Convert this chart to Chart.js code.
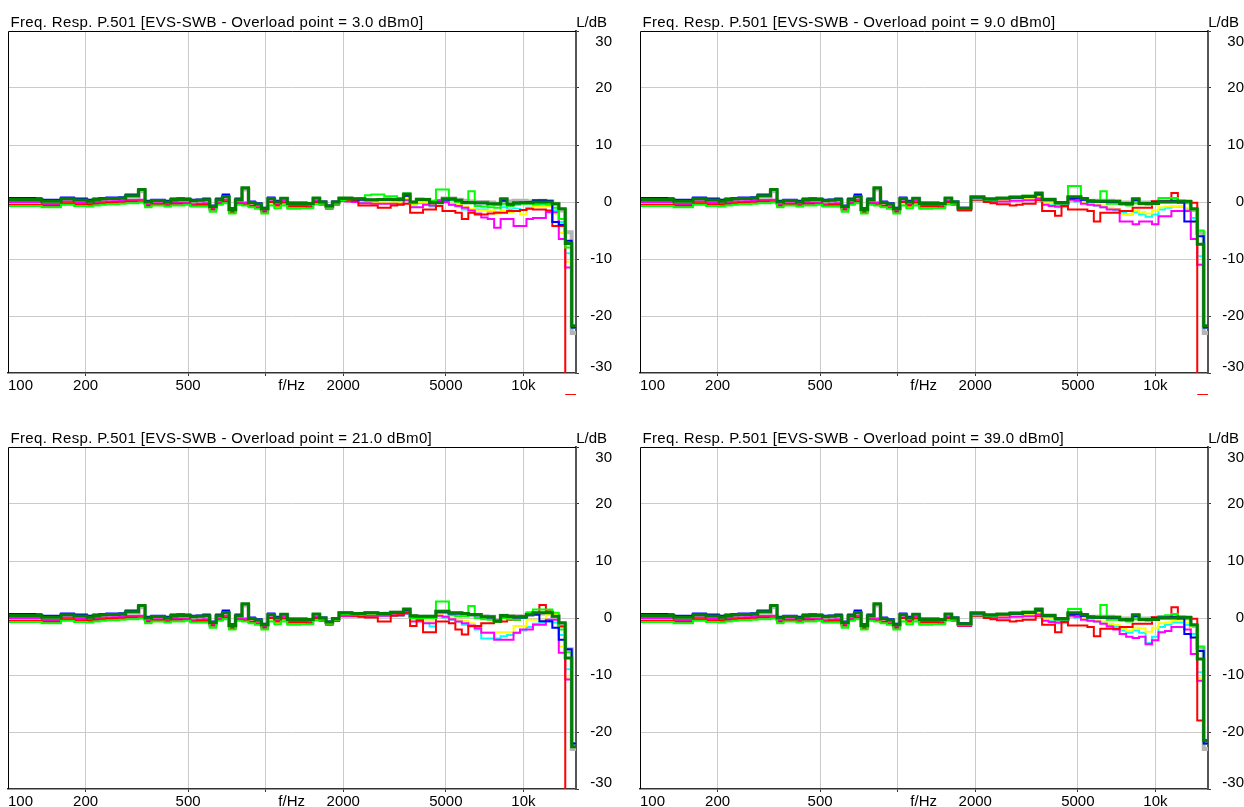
<!DOCTYPE html>
<html lang="en">
<head>
<meta charset="UTF-8">
<title>Freq. Resp. P.501 - EVS-SWB</title>
<script src="https://cdn.jsdelivr.net/npm/chart.js"></script>
<style>
  html, body { margin: 0; padding: 0; background: #fff; overflow: hidden; }
  #wrap { position: relative; width: 1244px; height: 807px; background: #fff; }
  #wrap canvas { position: absolute; }
</style>
</head>
<body>
<div id="wrap">
  <canvas id="p0" width="612" height="404" style="left:0;top:0"></canvas>
  <canvas id="p1" width="612" height="404" style="left:632px;top:0"></canvas>
  <canvas id="p2" width="612" height="404" style="left:0;top:416px"></canvas>
  <canvas id="p3" width="612" height="404" style="left:632px;top:416px"></canvas>
</div>
<script>
// 1/12 octave bands, level in dB. Bands 0..47 look the same in all four plots,
// bands 48..87 are read per plot.
const titles = ['3.0', '9.0', '21.0', '39.0'];
const xTickVals = [111.8, 200, 500, 1000, 1261, 2000, 5000, 10000];
const xTickText = ['100', '200', '500', '', 'f/Hz', '2000', '5000', '10k'];
const labelOnly = [111.8, 1261];

const lowDg = [0.45,0.45,0.45,0.45,0.45,0.15,0.15,0.15,0.55,0.55,0.35,0.35,0.15,0.45,0.55,0.6,0.6,0.65,1.1,1.1,2.2,0,0.25,0.25,0,0.45,0.45,0.45,0.2,0.3,0.4,-0.8,0.4,0.95,-1.3,0.4,2.5,-0.1,-0.4,-1.2,0.6,0,0.65,-0.25,-0.25,-0.25,-0.25,0.7];
const lowBlue = [0.7,0.7,0.7,0.7,0.65,0.4,0.4,0.4,0.8,0.8,0.6,0.6,0.4,0.6,0.7,0.8,0.8,0.85,1.3,1.3,2.1,0.2,0.4,0.4,0.2,0.6,0.65,0.6,0.4,0.45,0.6,-0.6,0.6,1.3,-1.1,0.6,2.4,0.1,-0.2,-1,0.8,0.2,0.7,-0.1,-0.1,-0.1,-0.2,0.7];
const lowGray = [0.35,0.35,0.35,0.35,0.35,0.05,0.05,0.05,0.45,0.45,0.25,0.25,0.05,0.3,0.45,0.5,0.5,0.5,0.9,0.9,1.9,-0.2,0.1,0.1,-0.1,0.3,0.3,0.3,0.1,0.2,0.2,-0.9,0.2,0.7,-1.3,0.2,2.2,-0.2,-0.5,-1.2,0.4,-0.1,0.5,-0.3,-0.3,-0.3,-0.3,0.5];
const lowMagenta = [0,0,0,0,0,-0.35,-0.35,-0.35,0.1,0.1,-0.1,-0.1,-0.25,0,0.1,0.1,0.15,0.2,0.35,0.35,0.4,-0.5,-0.2,-0.2,-0.4,0,-0.1,-0.1,-0.4,-0.3,-0.2,-1.2,-0.1,0.4,-1.6,-0.1,-0.1,-0.6,-0.9,-1.6,0.1,-0.5,0.2,-0.7,-0.7,-0.7,-0.7,0.2];
const lowRed = [-0.5,-0.5,-0.5,-0.5,-0.5,-0.65,-0.65,-0.65,-0.2,-0.2,-0.4,-0.4,-0.5,-0.3,-0.2,-0.15,-0.1,-0.05,0.1,0.1,0.1,-0.65,-0.4,-0.4,-0.6,-0.3,-0.3,-0.3,-0.6,-0.5,-0.5,-1.3,-0.3,0.1,-1.8,-0.3,-0.4,-0.7,-1,-1.7,0,-0.6,-0.1,-0.8,-0.8,-0.8,-0.9,0];
const lowYellow = [-0.25,-0.25,-0.25,-0.25,-0.25,-0.55,-0.55,-0.55,-0.1,-0.1,-0.25,-0.25,-0.35,-0.15,-0.1,-0.05,0,0.05,0.15,0.15,0.15,-0.55,-0.25,-0.25,-0.5,-0.2,-0.2,-0.2,-0.5,-0.4,-0.35,-1.25,-0.25,0.25,-1.65,-0.25,-0.15,-0.55,-0.85,-1.55,-0.25,-0.75,-0.25,-0.95,-0.95,-0.85,-0.85,-0.05];
const lowCyan = [-0.35,-0.35,-0.35,-0.35,-0.35,-0.65,-0.65,-0.65,-0.25,-0.25,-0.45,-0.45,-0.55,-0.35,-0.25,-0.15,-0.15,-0.05,0.05,0.05,0.05,-0.65,-0.45,-0.45,-0.65,-0.35,-0.35,-0.35,-0.65,-0.55,-0.55,-1.35,-0.35,0.05,-1.75,-0.35,-0.25,-0.65,-0.95,-1.65,-0.25,-0.75,-0.35,-1.05,-1.05,-0.95,-0.95,-0.15];
const lowLime = [-0.7,-0.7,-0.7,-0.7,-0.7,-0.9,-0.9,-0.9,-0.5,-0.5,-0.7,-0.7,-0.8,-0.6,-0.5,-0.4,-0.4,-0.3,-0.2,-0.2,-0.1,-0.9,-0.6,-0.6,-0.8,-0.6,-0.6,-0.5,-0.8,-0.8,-0.8,-1.7,-0.5,-0.2,-2,-0.5,-0.6,-0.9,-1.2,-2,-0.6,-1.1,-0.6,-1.2,-1.2,-1.1,-1.1,-0.4];

// plot 1 (3.0 dBm0)
const p1Dg = [0,-0.7,0,0.7,0.7,0.55,0.55,0.4,0.4,0.45,0.5,0.45,0.5,1.4,0,0.5,0.45,-0.15,-0.15,0.55,0.55,0.3,-0.15,-0.15,-0.15,-0.15,-0.3,-0.3,0.55,-0.4,-0.15,-0.15,-0.15,0,0,0,-0.3,-1.2,-7.3,-21.7];
const p1Blue = [0.1,-0.6,0.1,0.6,0.6,0.5,0.4,0.3,0.3,0.35,0.4,0.4,0.4,1.1,0,0.4,0.4,-0.1,-0.1,0.4,0.5,0.3,0,-0.1,-0.2,-0.2,-0.4,-0.4,0.2,-0.4,-0.2,-0.1,0,0.3,0.3,0.2,-3.5,-4,-6.8,-22];
const p1Gray = [-0.1,-0.8,-0.1,0.5,0.5,0.4,0.4,0.3,0.3,0.3,0.4,0.3,0.4,1.2,-0.1,0.4,0.4,0,0.1,0.6,0.6,0.4,0.2,0.1,0,0,-0.1,-0.3,0.3,0.1,0.2,0.2,0.1,0.1,0.2,0.1,-0.3,-1.5,-5.3,-23];
const p1Lime = [-0.3,-1,-0.3,0.3,0.5,0.6,0.7,1.2,1.3,1.3,1,1,0.7,1.5,-0.2,0.3,0.3,0.2,2.2,2.2,0.3,0,0,1.9,-0.7,-0.8,-0.9,-1,-0.3,-0.7,-0.5,-0.3,-0.3,-0.4,-0.3,-0.5,-1,-3,-8,-22];
const p1Red = [-0.3,-0.9,-0.3,0.3,0.3,0.2,-0.6,-0.6,-0.6,-1,-1,-0.6,-0.5,-0.3,-1.9,-1.9,-1.3,-1.3,-0.7,-1.6,-1.6,-1.9,-3,-1.9,-2.2,-2.2,-2,-1.9,-1.9,-1.6,-1.6,-1.4,-1.2,-1.3,-1.3,-1.5,-4.2,-4.2,-40,-40];
const p1Magenta = [-0.5,-1.2,-0.5,0.2,0.1,0,-0.2,-0.2,-0.3,-0.3,-0.3,-0.3,-0.4,0.3,-0.9,-0.9,-0.5,-0.6,0.3,0,-0.5,-0.7,-1,-1.5,-2,-2.7,-3,-4.5,-3,-3,-4.2,-4.2,-3,-2.8,-2.8,-1.8,-1.8,-6.5,-11.5,-22];
const p1Yellow = [-0.2,-0.9,-0.2,0.4,0.4,0.3,0.2,0.1,0,0,0,-0.1,-0.2,0.6,-0.5,0,-0.1,-0.5,0.2,0.1,-0.3,-0.5,-0.8,-1.2,-1.5,-1.5,-1.5,-2,-1.5,-1.8,-1.4,-2.2,-1.2,-0.8,-0.8,-0.7,-2,-5.4,-10.5,-22];
const p1Cyan = [-0.4,-1.1,-0.4,0.2,0.2,0.1,0,-0.1,-0.1,-0.2,-0.2,-0.2,-0.3,0.4,-0.6,-0.2,-0.3,-0.8,0,-0.1,-0.5,-0.8,-1.3,-1.3,-1.3,-1.3,-1.6,-1.8,-0.9,-1.3,-1.2,-1.4,-1,-0.7,-0.5,-0.5,-1.5,-3.5,-9,-22];

// plot 2 (9.0 dBm0)
const p2Dg = [0,-1.1,-1.1,0.9,0.9,0.55,0.55,0.7,0.7,0.85,0.85,1,1,1.6,0.5,0.5,-0.1,-0.1,0.9,0.9,0.6,0.2,0.15,0.15,0.15,0.15,-0.25,-0.25,0.55,-0.25,-0.25,-0.25,0,0,0,0.15,0.15,-1.2,-7.4,-21.7];
const p2Blue = [0.1,-1,-1,0.8,0.8,0.5,0.5,0.6,0.6,0.75,0.75,0.9,0.9,1.3,0.4,0.4,-0.2,-0.2,0.6,0.6,0.4,0.1,0.1,0,0,0,-0.3,-0.4,0.3,-0.3,-0.2,-0.1,0.1,0.1,0.2,0,-3.4,-3.4,-6,-22];
const p2Gray = [-0.1,-1.2,-1.2,0.7,0.7,0.4,0.4,0.5,0.5,0.7,0.7,0.8,0.8,1.4,0.3,0.3,-0.2,-0.2,0.7,0.7,0.5,0.2,0.2,0.2,0.2,0.1,-0.1,-0.1,0.4,-0.1,-0.1,0,0.1,0.1,0.1,0.1,0,-1.4,-5.4,-23];
const p2Lime = [-0.3,-1.2,-1.2,0.5,0.5,0.4,0.3,0.7,0.7,1,1,1.1,1.1,1.3,0.2,0.2,-0.3,-0.3,2.8,2.8,0.5,0,0,1.9,-0.3,-0.3,-0.5,-0.6,-0.2,-0.4,-0.5,-0.2,0.7,0.7,0.7,0.2,-0.2,-1.3,-5,-22];
const p2Red = [-0.3,-1.4,-1.4,0.4,0.4,0,-0.2,-0.4,-0.4,-0.6,-0.5,-0.3,-0.3,0.3,-1.6,-1.6,-2.4,-0.7,-1.3,-1.3,-1.3,-1.6,-3.4,-1.9,-1.9,-1.9,-1.6,-1.6,-1,-1,-1,0.15,0.15,0.15,1.6,-0.15,-0.15,-0.15,-40,-40];
const p2Magenta = [-0.5,-1.5,-1.5,0.3,0.3,0,0,0.1,0.1,0.2,0.2,0.3,0.3,0.6,-0.5,-0.7,-0.8,-0.7,0.4,0.2,-0.3,-0.5,-0.6,-0.9,-1.3,-1.3,-3.4,-3.4,-3.9,-3.4,-3.4,-3.9,-2.5,-2.5,-1.6,-1.6,-1.6,-6.5,-11,-22];
const p2Yellow = [-0.3,-1.3,-1.3,0.5,0.5,0.2,0.2,0.3,0.3,0.4,0.4,0.5,0.5,0.9,-0.2,-0.2,-0.6,-0.6,0.4,0.3,0,-0.3,-0.4,-0.6,-1,-1.2,-2.2,-2.2,-1.5,-1.8,-2,-1.5,-0.9,-0.8,-0.7,-0.7,-1,-3.6,-10.9,-22];
const p2Cyan = [-0.4,-1.4,-1.4,0.3,0.3,0.1,0.1,0.2,0.2,0.3,0.3,0.4,0.4,0.7,-0.4,-0.4,-0.9,-0.9,0.2,0.1,-0.2,-0.4,-0.6,-0.9,-1.2,-1.5,-1.9,-2.2,-1.8,-2.2,-2.6,-2.2,-1.3,-1,-0.8,-0.8,-1.2,-2.8,-9.5,-22];

// plot 3 (21.0 dBm0)
const p3Dg = [0,-0.7,-0.1,0.9,0.9,0.8,0.8,0.9,0.9,0.8,0.8,1,1,1.6,0.4,0.3,0.3,0.3,1.2,1.2,0.9,0.9,0.8,0.6,0.6,0.2,0.2,-0.55,0.45,0.3,0.2,0.2,0.6,0.9,0.9,0.9,0.3,-0.85,-7,-22.6];
const p3Blue = [0.1,-0.6,0,0.9,0.9,0.8,0.8,0.9,0.9,0.8,0.8,0.9,0.9,1.3,0.3,0.3,0.3,0.3,1,1,0.8,0.8,0.7,0.6,0.5,0.2,0.1,-0.5,0.3,0.2,0.1,0.1,0.5,0.6,-0.55,-0.55,-1.7,-3.8,-5.5,-22];
const p3Gray = [-0.1,-0.8,-0.2,0.8,0.8,0.7,0.7,0.8,0.8,0.7,0.7,0.9,0.9,1.4,0.3,0.2,0.2,0.2,1.1,1.1,0.8,0.8,0.7,0.5,0.5,0.3,0.2,-0.4,0.4,0.3,0.3,0.3,0.6,0.8,0.8,0.8,0.3,-1.2,-5.5,-23];
const p3Lime = [-0.3,-1,-0.3,0.6,0.6,0.6,0.6,0.8,0.8,0.8,0.9,0.9,0.9,1.5,0,0,0,0,2.9,2.9,0.5,0.3,0.3,2.1,0,-0.2,-0.3,-0.6,0,-0.2,-0.3,0,1,1.5,1.5,1.5,0.9,-2,-6,-22];
const p3Red = [-0.4,-1.1,-0.5,0.5,0.5,0.4,0.2,0.1,0.1,-0.6,-0.6,0.4,0.5,0.9,-1.4,-0.4,-2.5,-2.5,-0.6,-0.6,-0.9,-2,-2.9,-1.4,-1.4,-0.9,-0.9,-0.6,-0.6,-0.3,-0.3,0.3,0.6,0.6,2.3,1.2,0.3,-1.5,-40,-40];
const p3Magenta = [-0.5,-1.2,-0.5,0.3,0.3,0.3,0.3,0.4,0.4,0.4,0.4,0.5,0.5,0.8,-0.6,-0.6,-0.9,-0.9,0.4,0.2,-0.2,-0.6,-0.9,-1.3,-1.8,-2.6,-2.6,-3.8,-3.8,-3.8,-2.6,-2,-2,-1.2,-1.2,-0.3,-0.3,-6.1,-10.8,-22];
const p3Yellow = [-0.3,-1,-0.3,0.4,0.4,0.4,0.4,0.5,0.5,0.5,0.5,0.6,0.6,1,-0.3,-0.3,-0.6,-0.6,0.5,0.3,0,-0.3,-0.5,-0.9,-1.4,-2.5,-2.5,-2.5,-2.5,-2.5,-1.4,-1.4,-0.3,-0.3,-0.3,0.6,0.6,-5,-10.5,-22];
const p3Cyan = [-0.4,-1.1,-0.4,0.3,0.3,0.3,0.2,0.3,0.3,0.3,0.3,0.4,0.4,0.7,-0.5,-0.5,-0.8,-1.5,0.3,0.1,-0.3,-0.6,-1.2,-1.5,-2,-3.6,-3.6,-3.6,-3.2,-3,-2.6,-2.2,-1.6,-1,-0.8,-0.6,-0.8,-3,-9,-22];

// plot 4 (39.0 dBm0)
const p4Dg = [0,-1,-1,0.9,0.9,0.55,0.55,0.7,0.7,0.85,0.85,1,1,1.6,0.5,0.5,-0.1,-0.1,0.9,0.9,0.6,0.2,0.15,0.15,0.15,0.15,-0.25,-0.25,0.55,-0.25,-0.25,-0.25,0,0,0,0.15,0.15,-1.2,-7.2,-21.5];
const p4Blue = [0.1,-0.9,-0.9,0.8,0.8,0.5,0.5,0.6,0.6,0.75,0.75,0.9,0.9,1.3,0.4,0.4,-0.2,-0.2,0.6,0.6,0.4,0.1,0.1,0,0,0,-0.3,-0.4,0.3,-0.3,-0.2,-0.1,0.1,0.1,0.2,0,-2.8,-3.4,-5.8,-22];
const p4Gray = [-0.1,-1.1,-1.1,0.7,0.7,0.4,0.4,0.5,0.5,0.7,0.7,0.8,0.8,1.4,0.3,0.3,-0.2,-0.2,0.7,0.7,0.5,0.2,0.2,0.2,0.2,0.1,-0.1,-0.1,0.4,-0.1,-0.1,0,0.1,0.1,0.1,0.1,0,-1.4,-5.2,-23];
const p4Lime = [-0.3,-1.2,-1.2,0.5,0.5,0.4,0.3,0.7,0.7,1,1,1.1,1.1,1.3,0.2,0.2,-0.3,-0.3,1.6,1.6,0.5,0,0,2.3,-0.3,-0.3,-0.5,-0.6,-0.2,-0.4,-0.5,-0.2,0.3,0.5,0.7,0.2,-0.2,-1.3,-5,-22];
const p4Red = [-0.3,-1.3,-1.3,0.4,0.4,0,-0.2,-0.4,-0.4,-0.6,-0.5,-0.3,-0.3,0.3,-1.2,-1.2,-2.5,-0.7,-1.3,-1.3,-1.3,-1.6,-3.2,-1.9,-1.9,-1.9,-1.6,-1.6,-1,-1,-1,0.15,0.15,0.15,1.9,-0.15,-0.15,-0.15,-18,-21.5];
const p4Magenta = [-0.5,-1.4,-1.4,0.3,0.3,0,0,0.1,0.1,0.2,0.2,0.3,0.3,0.6,-0.5,-0.7,-0.8,-0.7,0.4,0.2,-0.3,-0.5,-0.6,-1,-1.5,-2,-2.8,-3.3,-3.5,-3.3,-4.6,-3.9,-2.5,-2.3,-1.6,-1.6,-2,-6.3,-11,-22];
const p4Yellow = [-0.3,-1.2,-1.2,0.5,0.5,0.2,0.2,0.3,0.3,0.4,0.4,0.5,0.5,0.9,-0.2,-0.2,-0.6,-0.6,0.4,0.3,0,-0.3,-0.4,-0.6,-1,-1.2,-1.8,-2.2,-1.7,-1.8,-2.4,-1.7,-0.9,-0.8,-0.4,-0.3,-0.8,-3.5,-10.5,-22];
const p4Cyan = [-0.4,-1.3,-1.3,0.3,0.3,0.1,0.1,0.2,0.2,0.3,0.3,0.4,0.4,0.7,-0.4,-0.4,-0.9,-0.9,0.2,0.1,-0.2,-0.4,-0.6,-0.9,-1.2,-1.5,-2.2,-2.6,-2.2,-2.6,-4.4,-3.3,-1.6,-1.2,-0.8,-0.8,-1.2,-2.8,-9.5,-22];

// band lower edges in Hz (1/12 octave grid), the axis runs 100 .. 16000
const fMin = 100, fMax = 16000;
const bandEdges = [];
for (let k = 0; k < 88; k++) bandEdges.push(k === 0 ? fMin : 101.17 * Math.pow(2, k / 12));

const highData = [
  { dg: p1Dg, blue: p1Blue, lime: p1Lime, red: p1Red, magenta: p1Magenta, yellow: p1Yellow, cyan: p1Cyan, gray: p1Gray },
  { dg: p2Dg, blue: p2Blue, lime: p2Lime, red: p2Red, magenta: p2Magenta, yellow: p2Yellow, cyan: p2Cyan, gray: p2Gray },
  { dg: p3Dg, blue: p3Blue, lime: p3Lime, red: p3Red, magenta: p3Magenta, yellow: p3Yellow, cyan: p3Cyan, gray: p3Gray },
  { dg: p4Dg, blue: p4Blue, lime: p4Lime, red: p4Red, magenta: p4Magenta, yellow: p4Yellow, cyan: p4Cyan, gray: p4Gray }
];
const lowData = { dg: lowDg, blue: lowBlue, lime: lowLime, red: lowRed, magenta: lowMagenta, yellow: lowYellow, cyan: lowCyan, gray: lowGray };

// first entry is drawn on top
const seriesStyle = [
  ['dg', '#008000', 3],
  ['blue', '#0000ff', 2],
  ['lime', '#00ff00', 2],
  ['red', '#ff0000', 2],
  ['magenta', '#ff00ff', 2],
  ['yellow', '#ffff00', 2],
  ['cyan', '#00ffff', 2],
  ['gray', '#b4b4b4', 4]
];

const FONT = '"Liberation Sans", Arial, sans-serif';
Chart.defaults.font.family = FONT;
Chart.defaults.color = '#000';

const frame = {
  id: 'frame',
  afterDraw(chart, args, opts) {
    const { ctx, chartArea: a, scales: { x, y } } = chart;
    ctx.save();
    ctx.strokeStyle = '#000';
    ctx.lineWidth = 1;
    ctx.beginPath();
    ctx.moveTo(a.left + 0.5, a.bottom);
    ctx.lineTo(a.left + 0.5, a.top + 0.5);
    ctx.lineTo(a.right, a.top + 0.5);
    ctx.stroke();

    ctx.fillStyle = '#000';
    ctx.font = '15px ' + FONT;
    ctx.textBaseline = 'alphabetic';
    ctx.textAlign = 'left';
    ctx.letterSpacing = '0.35px';
    ctx.fillText(opts.title, a.left + 2.5, a.top - 4.3);
    ctx.letterSpacing = '0px';
    ctx.textAlign = 'right';
    ctx.fillText('L/dB', a.right + 31, a.top - 4.3);

    // marks for bands that fall below the axis
    chart.data.datasets.forEach(ds => {
      const pts = ds.data;
      for (let i = 0; i < pts.length - 1; i++) {
        if (pts[i].y < y.min) {
          const x0 = x.getPixelForValue(pts[i].x);
          const x1 = Math.min(x.getPixelForValue(pts[i + 1].x), a.right + 1);
          ctx.strokeStyle = ds.borderColor;
          ctx.beginPath();
          ctx.moveTo(x0, a.bottom + 21.5);
          ctx.lineTo(x1, a.bottom + 21.5);
          ctx.stroke();
        }
      }
    });
    ctx.restore();
  }
};

function makeData(panel, key) {
  const vals = lowData[key].concat(highData[panel][key]);
  const pts = bandEdges.map((f, k) => ({ x: f, y: vals[k] }));
  pts.push({ x: fMax, y: vals[vals.length - 1] });
  return pts;
}

titles.forEach((t, p) => {
  new Chart(document.getElementById('p' + p), {
    type: 'line',
    data: {
      datasets: seriesStyle.map(([key, color, w]) => ({
        label: key,
        data: makeData(p, key),
        borderColor: color,
        borderWidth: w,
        pointRadius: 0,
        stepped: 'before',
        fill: false,
        clip: 0
      }))
    },
    options: {
      responsive: false,
      animation: false,
      devicePixelRatio: 1,
      layout: { padding: { left: 8, top: 31, right: 0, bottom: 0 } },
      plugins: {
        legend: { display: false },
        tooltip: { enabled: false },
        frame: { title: 'Freq. Resp. P.501 [EVS-SWB - Overload point = ' + t + ' dBm0]' }
      },
      scales: {
        x: {
          type: 'logarithmic',
          position: 'bottom',
          min: fMin,
          max: fMax,
          afterBuildTicks: s => { s.ticks = xTickVals.map(v => ({ value: v })); },
          afterFit: s => { s.height = 31; },
          ticks: {
            autoSkip: false,
            maxRotation: 0,
            padding: 1,
            font: { size: 15 },
            color: '#000',
            callback: v => xTickText[xTickVals.indexOf(v)]
          },
          grid: {
            color: c => (c.tick && labelOnly.includes(c.tick.value)) ? 'rgba(0,0,0,0)' : '#cbcbcb',
            tickColor: c => (c.tick && labelOnly.includes(c.tick.value)) ? 'rgba(0,0,0,0)' : '#333',
            tickLength: 3,
            lineWidth: 1
          },
          border: { color: '#333', width: 1.5 }
        },
        y: {
          position: 'right',
          min: -30,
          max: 30,
          afterFit: s => { s.width = 36; },
          ticks: {
            stepSize: 10,
            padding: 6,
            crossAlign: 'far',
            color: '#000',
            font: c => ({ size: 15, lineHeight: (c.tick && c.tick.value === -30) ? 0.84 : 1.4 }),
            callback: v => v === 30 ? ['', '30'] : (v === -30 ? ['-30', ''] : String(v))
          },
          grid: {
            color: c => (c.tick && Math.abs(c.tick.value) === 30) ? 'rgba(0,0,0,0)' : '#cbcbcb',
            tickColor: '#333',
            tickLength: 3,
            lineWidth: 1
          },
          border: { color: '#555', width: 2 }
        }
      }
    },
    plugins: [frame]
  });
});
</script>
</body>
</html>
